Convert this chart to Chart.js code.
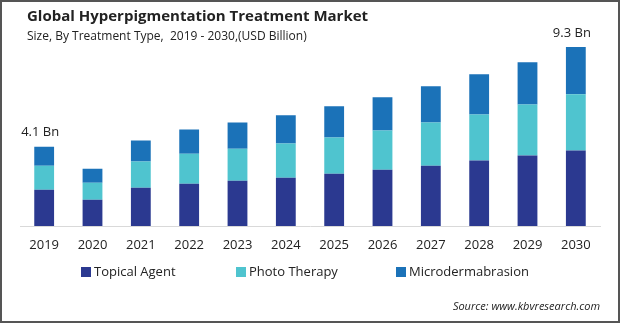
<!DOCTYPE html>
<html>
<head>
<meta charset="utf-8">
<script src="https://cdn.jsdelivr.net/npm/chart.js@4/dist/chart.umd.min.js"></script>
<style>
  html, body { margin: 0; padding: 0; background: #fff; }
  #wrap { position: relative; width: 620px; height: 323px; font-family: "Open Sans", sans-serif; color: #222; }
  #chart { position: absolute; left: 0; top: 0; }
  #frame { position: absolute; inset: 0; border: 2px solid #555; pointer-events: none; }
  #title { position: absolute; left: 27px; top: 5px; font-size: 15px; font-weight: bold; color: #222; white-space: nowrap; }
  #subtitle { position: absolute; left: 27px; top: 27px; font-size: 12px; color: #222; white-space: nowrap; }
  #legend { position: absolute; top: 262px; left: 0; width: 620px; height: 18px; }
  .item { position: absolute; top: 0; font-size: 13px; line-height: 18px; white-space: nowrap; }
  .item span.box { display: inline-block; width: 10px; height: 10px; margin-right: 3px; vertical-align: -1px; }
  #source { position: absolute; right: 20px; top: 298px; font-size: 11px; font-style: italic; color: #222; }
</style>
</head>
<body>
<div id="wrap">
  <canvas id="chart" width="620" height="323"></canvas>
  <div id="title">Global Hyperpigmentation Treatment Market</div>
  <div id="subtitle">Size, By Treatment Type,&nbsp; 2019 - 2030,(USD Billion)</div>
  <div id="legend"></div>
  <div id="source">Source: www.kbvresearch.com</div>
  <div id="frame"></div>
</div>
<script>
const years = ["2019", "2020", "2021", "2022", "2023", "2024", "2025", "2026", "2027", "2028", "2029", "2030"];
const topicalAgent = [1.88, 1.36, 1.99, 2.19, 2.35, 2.51, 2.72, 2.93, 3.13, 3.40, 3.66, 3.92];
const photoTherapy = [1.25, 0.89, 1.36, 1.57, 1.67, 1.78, 1.88, 2.04, 2.25, 2.40, 2.66, 2.93];
const microdermabrasion = [0.99, 0.73, 1.10, 1.25, 1.36, 1.46, 1.62, 1.72, 1.88, 2.09, 2.19, 2.46];
const totalLabels = ["4.1 Bn", "", "", "", "", "", "", "", "", "", "", "9.3 Bn"];

const seriesNames = ["Topical Agent", "Photo Therapy", "Microdermabrasion"];
const seriesColors = ["#2b3990", "#4fc4cf", "#1b72b8"];
const legendLeft = [81, 236, 396];

// writes the "x.x Bn" text above the first and last stacks
const totalLabelPlugin = {
  id: "totalLabels",
  afterDatasetsDraw(chart) {
    const ctx = chart.ctx;
    const meta = chart.getDatasetMeta(chart.data.datasets.length - 1);
    ctx.save();
    ctx.font = "13px 'Open Sans'";
    ctx.fillStyle = "#222";
    ctx.textAlign = "center";
    ctx.textBaseline = "middle";
    meta.data.forEach((bar, i) => {
      if (!totalLabels[i]) return;
      ctx.fillText(totalLabels[i], bar.x - 4, bar.y - 14);
    });
    ctx.restore();
  }
};

const chart = new Chart(document.getElementById("chart"), {
  type: "bar",
  data: {
    labels: years,
    datasets: [
      { label: seriesNames[0], data: topicalAgent, backgroundColor: seriesColors[0] },
      { label: seriesNames[1], data: photoTherapy, backgroundColor: seriesColors[1] },
      { label: seriesNames[2], data: microdermabrasion, backgroundColor: seriesColors[2] }
    ]
  },
  options: {
    responsive: false,
    animation: false,
    datasets: { bar: { categoryPercentage: 1, barPercentage: 0.41 } },
    layout: { padding: { left: 20, right: 20, top: 33.6, bottom: 59.4 } },
    plugins: { legend: { display: false }, tooltip: { enabled: false } },
    scales: {
      x: {
        stacked: true,
        grid: { display: false, drawTicks: false },
        border: { display: true, color: "#d9d9d9", width: 1 },
        ticks: { color: "#222", padding: 11, font: { family: "'Open Sans'", size: 13 } }
      },
      y: { stacked: true, display: false, min: 0, max: 10 }
    }
  },
  plugins: [totalLabelPlugin]
});

const legend = document.getElementById("legend");
chart.data.datasets.forEach((ds, i) => {
  const item = document.createElement("div");
  item.className = "item";
  item.style.left = legendLeft[i] + "px";
  const box = document.createElement("span");
  box.className = "box";
  box.style.background = ds.backgroundColor;
  item.appendChild(box);
  item.appendChild(document.createTextNode(ds.label));
  legend.appendChild(item);
});
</script>
</body>
</html>
